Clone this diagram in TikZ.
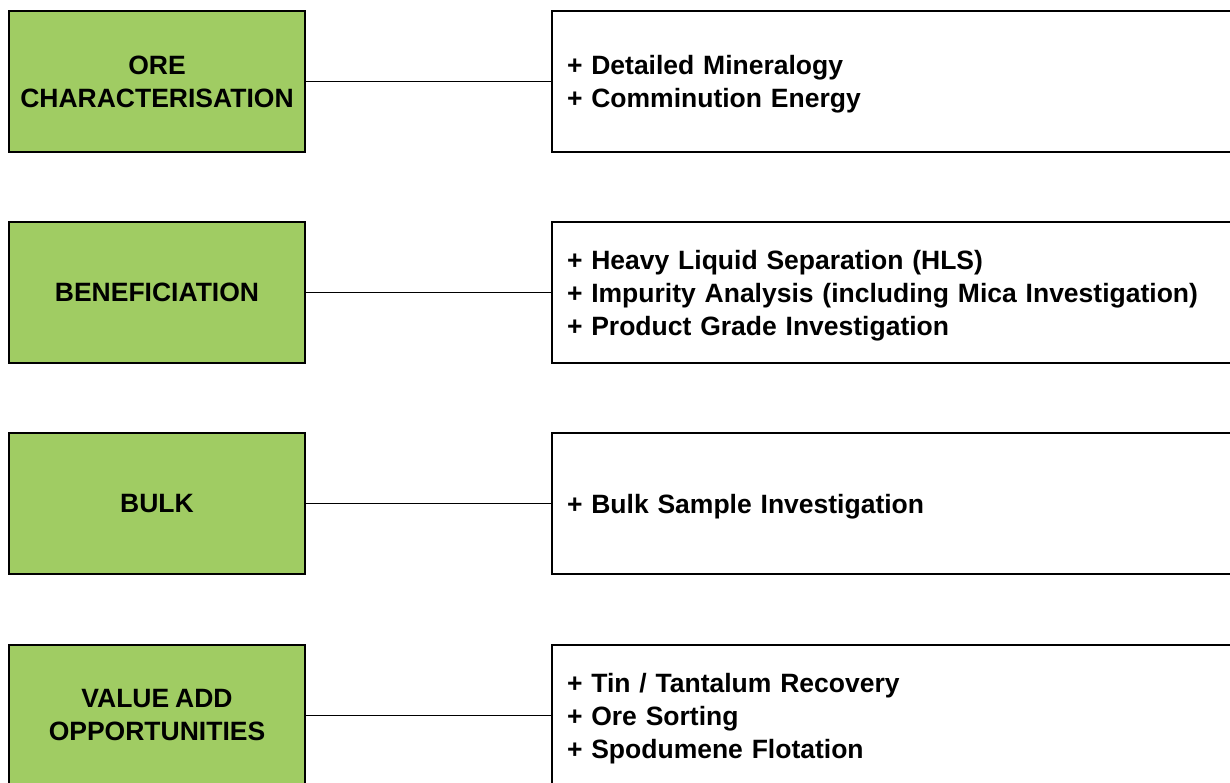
\documentclass[tikz,border=0pt]{standalone}
\usepackage{fontspec}
\setmainfont{Liberation Sans}[WordSpace=0.8]
\definecolor{boxgreen}{RGB}{160,204,99}
\tikzset{
  stage/.style={draw=black, line width=1.5pt, fill=boxgreen, minimum width=296pt, minimum height=141pt, inner sep=0pt, align=center, font=\bfseries\fontsize{26.5}{33}\selectfont},
  detail/.style={draw=black, line width=1.5pt, fill=white, text width=660pt, inner xsep=15pt, inner ysep=0pt, minimum height=141pt, align=left, font=\bfseries\fontsize{26.5}{33}\selectfont, execute at end node={\par\vspace*{-6pt}}},
  link/.style={draw=black, line width=1.4pt}
}
\begin{document}
\begin{tikzpicture}[x=1pt,y=-1pt]
\useasboundingbox (0,0) rectangle (1230,783);
\fill[white] (0,0) rectangle (1230,783);
\node[stage] (g1) at (157,81.5) {ORE\\CHARACTERISATION};
\node[stage] (g2) at (157,292.5) {BENEFICIATION};
\node[stage] (g3) at (157,503.5) {BULK};
\node[stage] (g4) at (157,715.5) {VALUE ADD\\OPPORTUNITIES};
\node[detail] (r1) at (897,81.5) {+ Detailed Mineralogy\\+ Comminution Energy};
\node[detail] (r2) at (897,292.5) {+ Heavy Liquid Separation (HLS)\\+ Impurity Analysis (including Mica Investigation)\\+ Product Grade Investigation};
\node[detail] (r3) at (897,503.5) {+ Bulk Sample Investigation};
\node[detail] (r4) at (897,715.5) {+ Tin / Tantalum Recovery\\+ Ore Sorting\\+ Spodumene Flotation};
\draw[link] (g1.east) -- (r1.west);
\draw[link] (g2.east) -- (r2.west);
\draw[link] (g3.east) -- (r3.west);
\draw[link] (g4.east) -- (r4.west);
\end{tikzpicture}
\end{document}
